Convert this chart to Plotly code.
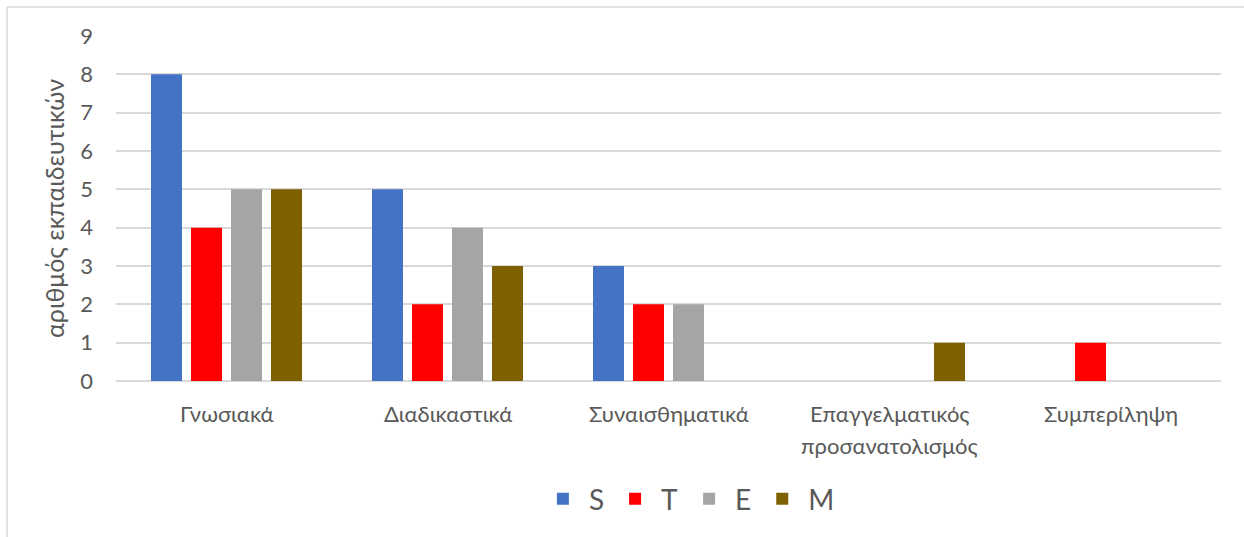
import plotly.graph_objects as go

categories = ["Γνωσιακά", "Διαδικαστικά", "Συναισθηματικά",
              "Επαγγελματικός<br>προσανατολισμός", "Συμπερίληψη"]
series_names = ["S", "T", "E", "M"]
S_vals = [8, 5, 3, None, None]
T_vals = [4, 2, 2, None, 1]
E_vals = [5, 4, 2, None, None]
M_vals = [5, 3, None, 1, None]
colors = ["#4472C4", "#FF0000", "#A5A5A5", "#7F6000"]
y_ticks = [0, 1, 2, 3, 4, 5, 6, 7, 8, 9]

fig = go.Figure()
for name, vals, col in zip(series_names, [S_vals, T_vals, E_vals, M_vals], colors):
    fig.add_trace(go.Bar(x=categories, y=vals, name=name,
                         marker=dict(color=col, line=dict(width=0))))

font_family = "Lato, 'Open Sans', sans-serif"
L, R, T, B = 116, 23, 36, 156
pw = 1244 - L - R
ph = 537 - T - B

fig.update_layout(
    width=1244, height=537,
    barmode="group", bargap=0.276, bargroupgap=0.225,
    plot_bgcolor="white", paper_bgcolor="white",
    margin=dict(l=L, r=R, t=T, b=B, autoexpand=False),
    font=dict(family=font_family, color="#595959"),
    showlegend=True,
    legend=dict(orientation="h", x=0.518, xanchor="center", y=-0.27, yanchor="top",
                font=dict(size=28, color="#595959"), itemsizing="constant",
                itemwidth=42, traceorder="normal"),
    xaxis=dict(showgrid=False, showline=False, ticks="", showticklabels=False,
               automargin=False),
    yaxis=dict(range=[0, 9], tickvals=y_ticks, showgrid=True, gridcolor="#D9D9D9",
               gridwidth=1.5, zeroline=True, zerolinecolor="#D9D9D9", zerolinewidth=1.5,
               showline=False, ticks="", tickfont=dict(size=22), ticklabelstandoff=22,
               automargin=False,
               title=dict(text="αριθμός εκπαιδευτικών", font=dict(size=25), standoff=8)),
)

# category labels (split lines for Excel-like line spacing)
for cat in categories:
    lines = cat.split("<br>")
    for i, line in enumerate(lines):
        fig.add_annotation(x=cat, xref="x", yref="paper", y=-(32 + 32 * i) / ph,
                           text=line, showarrow=False, yanchor="middle",
                           font=dict(size=22, color="#595959"))

xl = (7 - L) / pw
yt = (537 - B - 7) / ph
fig.add_shape(type="line", xref="paper", yref="paper", x0=xl, x1=1.2, y0=yt, y1=yt,
              line=dict(color="#D9D9D9", width=1.5))
fig.add_shape(type="line", xref="paper", yref="paper", x0=xl, x1=xl, y0=-1, y1=yt,
              line=dict(color="#D9D9D9", width=1.5))

fig.write_html("out.html")
